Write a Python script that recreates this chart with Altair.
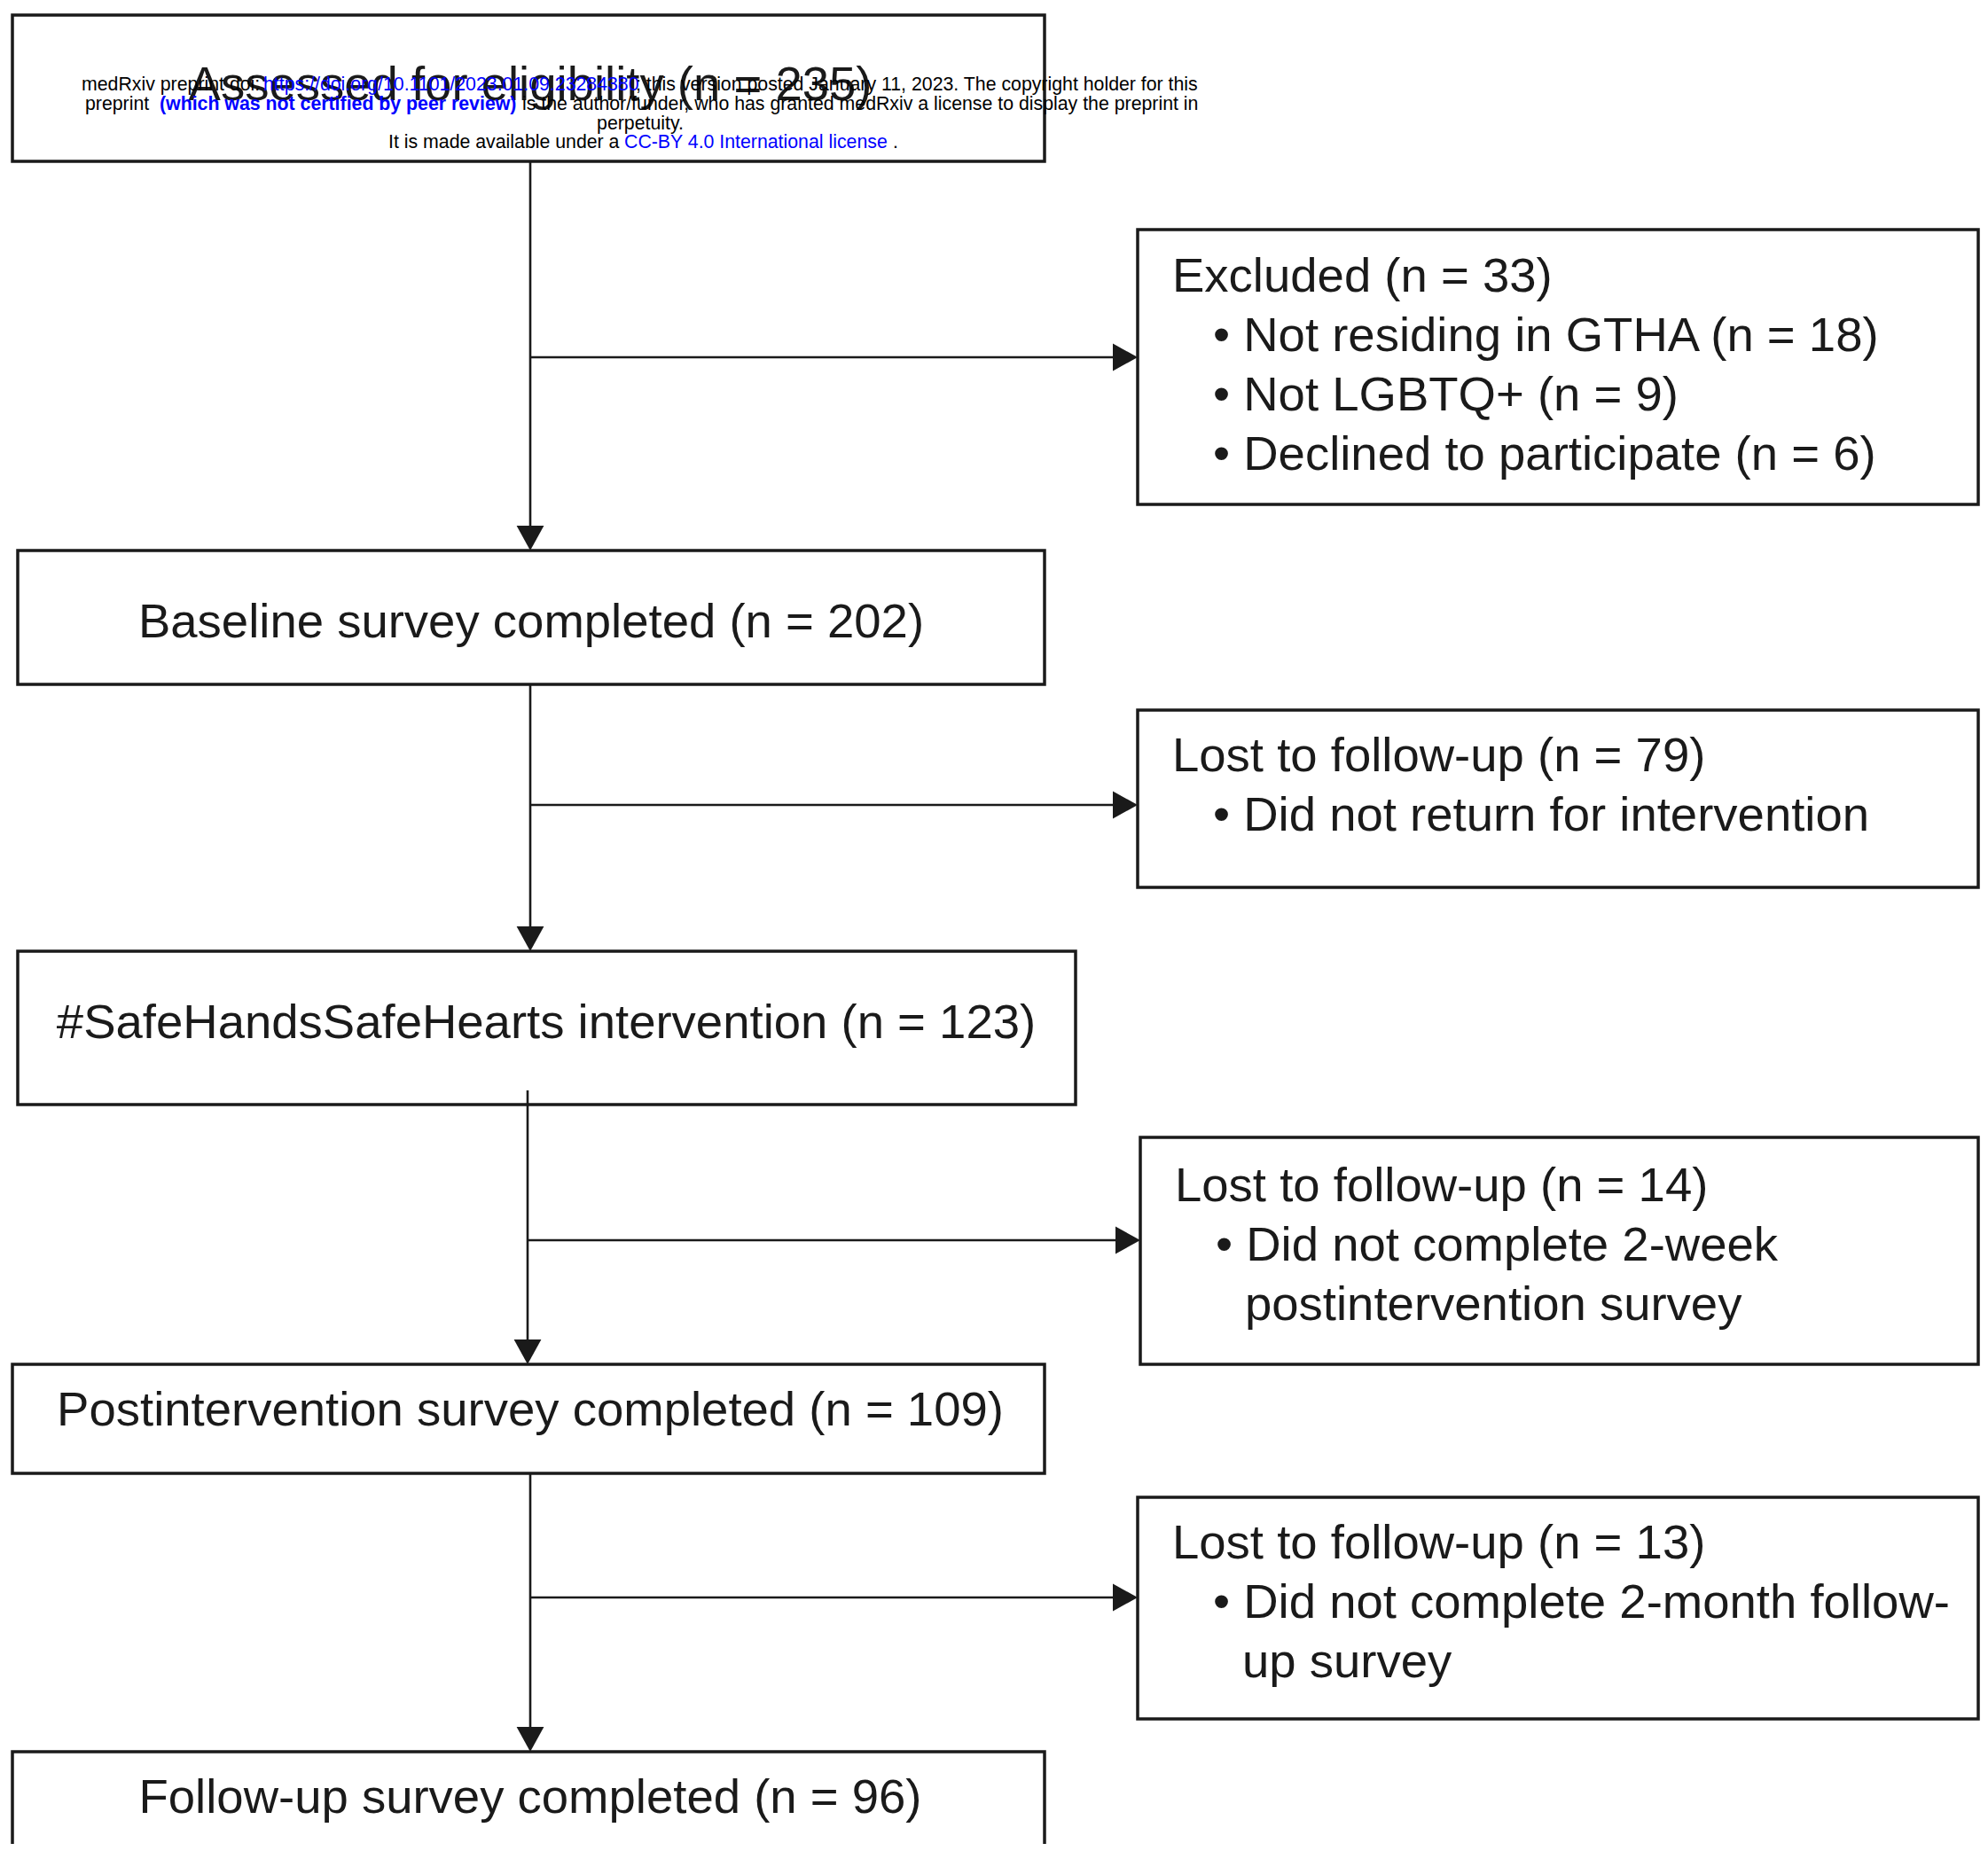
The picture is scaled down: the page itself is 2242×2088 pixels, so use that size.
import altair as alt
import pandas as pd

# ---------------- data ----------------
main_steps = [
    "Assessed for eligibility",
    "Baseline survey completed",
    "#SafeHandsSafeHearts intervention",
    "Postintervention survey completed",
    "Follow-up survey completed",
]
main_n = [235, 202, 123, 109, 96]

side_headers = ["Excluded", "Lost to follow-up", "Lost to follow-up", "Lost to follow-up"]
side_n = [33, 79, 14, 13]

excluded_reasons = ["Not residing in GTHA", "Not LGBTQ+", "Declined to participate"]
excluded_n = [18, 9, 6]

loss_reasons = [
    ["Did not return for intervention"],
    ["Did not complete 2-week", "postintervention survey"],
    ["Did not complete 2-month follow-", "up survey"],
]

wm_line1 = ["medRxiv preprint doi:", "https://doi.org/10.1101/2023.01.09.23284380",
            "; this version posted January 11, 2023. The copyright holder for this"]
wm_line2 = ["preprint", "(which was not certified by peer review)",
            "is the author/funder, who has granted medRxiv a license to display the preprint in"]
wm_line3 = ["perpetuity."]
wm_line4 = ["It is made available under a", "CC-BY 4.0 International license", "."]

# ---------------- layout (pixel space of the figure) ----------------
main_box = [(14, 1178, 17, 182), (20, 1178, 621, 772), (20, 1213, 1073, 1246),
            (14, 1178, 1539, 1662), (14, 1178, 1976, 2110)]
main_text_pos = [(598, 97), (599, 703), (616, 1155), (598, 1592), (598, 2029)]
side_box = [(1283, 2231, 259, 569), (1283, 2231, 801, 1001),
            (1286, 2231, 1283, 1539), (1283, 2231, 1689, 1939)]
side_text_x = [1322, 1322, 1325, 1322]
side_first_y = [313, 854, 1339, 1742]
line_gap = 67
stem_x = [598, 598, 595, 598]
stem_start = [182, 772, 1230, 1662]
branch_y = [403, 908, 1399, 1802]

INK = "#1a1a1a"
FONT = "Liberation Sans"
BIG = 54.5
SMALL = 21.3
BLUE = "#0000ff"

xs = alt.Scale(domain=[8, 2234], nice=False, zero=False)
ys = alt.Scale(domain=[8, 2080], reverse=True, nice=False, zero=False)

# boxes
boxes = pd.DataFrame(
    [dict(x=b[0], x2=b[1], y=b[2], y2=b[3]) for b in main_box + side_box]
)

# connectors
vert = pd.DataFrame([
    dict(x=stem_x[i], y=stem_start[i], y2=main_box[i + 1][2] - 4) for i in range(4)
])
horiz = pd.DataFrame([
    dict(x=stem_x[i], x2=side_box[i][0] - 4, y=branch_y[i]) for i in range(4)
])
down_tips = pd.DataFrame([dict(x=stem_x[i], y=main_box[i + 1][2]) for i in range(4)])
right_tips = pd.DataFrame([dict(x=side_box[i][0], y=branch_y[i]) for i in range(4)])

# texts
main_txt = pd.DataFrame([
    dict(x=main_text_pos[i][0], y=main_text_pos[i][1], t=f"{main_steps[i]} (n = {main_n[i]})")
    for i in range(5)
])
side_rows = []
for i in range(4):
    x0 = side_text_x[i]
    y0 = side_first_y[i]
    side_rows.append(dict(x=x0, y=y0, t=f"{side_headers[i]} (n = {side_n[i]})"))
    if i == 0:
        for k, (r, n) in enumerate(zip(excluded_reasons, excluded_n)):
            side_rows.append(dict(x=x0 + 46, y=y0 + line_gap * (k + 1), t=f"\u2022 {r} (n = {n})"))
    else:
        for k, r in enumerate(loss_reasons[i - 1]):
            if k == 0:
                side_rows.append(dict(x=x0 + 46, y=y0 + line_gap * (k + 1), t=f"\u2022 {r}"))
            else:
                side_rows.append(dict(x=x0 + 79, y=y0 + line_gap * (k + 1), t=r))
side_txt = pd.DataFrame(side_rows)

wm_black = pd.DataFrame([
    dict(x=92, y=96, t=wm_line1[0]),
    dict(x=717, y=96, t=wm_line1[2]),
    dict(x=96, y=118, t=wm_line2[0]),
    dict(x=589, y=118, t=wm_line2[2]),
    dict(x=438, y=161, t=wm_line4[0]),
    dict(x=1007, y=161, t=wm_line4[2]),
])
wm_center = pd.DataFrame([dict(x=722, y=140, t=wm_line3[0])])
wm_blue = pd.DataFrame([
    dict(x=297, y=96, t=wm_line1[1]),
    dict(x=704, y=161, t=wm_line4[1]),
])
wm_bold = pd.DataFrame([dict(x=180, y=118, t=wm_line2[1])])

X = lambda f="x": alt.X(f"{f}:Q", scale=xs, axis=None)
Y = lambda f="y": alt.Y(f"{f}:Q", scale=ys, axis=None)

rect_layer = alt.Chart(boxes).mark_rect(
    fillOpacity=0, stroke=INK, strokeWidth=3.5, clip=True
).encode(x=X(), x2="x2:Q", y=Y(), y2="y2:Q")

vert_layer = alt.Chart(vert).mark_rule(color=INK, strokeWidth=2.6).encode(x=X(), y=Y(), y2="y2:Q")
horiz_layer = alt.Chart(horiz).mark_rule(color=INK, strokeWidth=2.6).encode(x=X(), x2="x2:Q", y=Y())

down_layer = alt.Chart(down_tips).mark_point(
    shape="M0,0L-0.55,-1L0.55,-1Z", filled=True, size=3136, color=INK, opacity=1, strokeWidth=0
).encode(x=X(), y=Y())
right_layer = alt.Chart(right_tips).mark_point(
    shape="M0,0L-1,-0.55L-1,0.55Z", filled=True, size=3136, color=INK, opacity=1, strokeWidth=0
).encode(x=X(), y=Y())

main_text_layer = alt.Chart(main_txt).mark_text(
    font=FONT, fontSize=BIG, color=INK, align="center", baseline="middle"
).encode(x=X(), y=Y(), text="t:N")
side_text_layer = alt.Chart(side_txt).mark_text(
    font=FONT, fontSize=BIG, color=INK, align="left", baseline="middle"
).encode(x=X(), y=Y(), text="t:N")

wm1 = alt.Chart(wm_black).mark_text(
    font=FONT, fontSize=SMALL, color="#000000", align="left", baseline="middle"
).encode(x=X(), y=Y(), text="t:N")
wm2 = alt.Chart(wm_center).mark_text(
    font=FONT, fontSize=SMALL, color="#000000", align="center", baseline="middle"
).encode(x=X(), y=Y(), text="t:N")
wm3 = alt.Chart(wm_blue).mark_text(
    font=FONT, fontSize=SMALL, color=BLUE, align="left", baseline="middle"
).encode(x=X(), y=Y(), text="t:N")
wm4 = alt.Chart(wm_bold).mark_text(
    font=FONT, fontSize=SMALL, color=BLUE, fontWeight="bold", align="left", baseline="middle"
).encode(x=X(), y=Y(), text="t:N")

chart = alt.layer(
    vert_layer, horiz_layer, rect_layer, down_layer, right_layer,
    main_text_layer, side_text_layer, wm1, wm2, wm3, wm4
).properties(
    width=2226, height=2072, padding=0,
    autosize=alt.AutoSizeParams(type="none"),
    background="white",
).configure_view(strokeWidth=0)

chart.save("out.html", embed_options={"renderer": "svg", "actions": False})
